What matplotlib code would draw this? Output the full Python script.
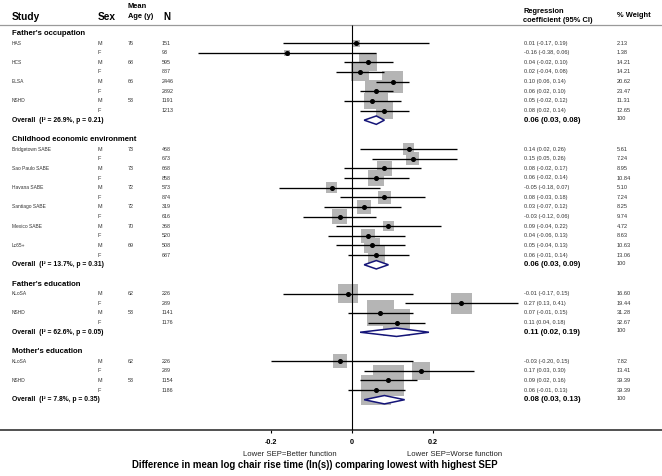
import matplotlib.pyplot as plt
from matplotlib.patches import Polygon

plt.rcParams['font.family'] = ['Liberation Sans', 'DejaVu Sans']

# sections and their study rows
sections = ["Father's occupation", "Childhood economic environment",
            "Father's education", "Mother's education"]
section_sizes = [8, 12, 4, 4]

studies = ["HAS", "", "HCS", "", "ELSA", "", "NSHD", "",
           "Bridgetown SABE", "", "Sao Paulo SABE", "", "Havana SABE", "",
           "Santiago SABE", "", "Mexico SABE", "", "Lc65+", "",
           "KLoSA", "", "NSHD", "",
           "KLoSA", "", "NSHD", ""]
sexes = ["M", "F"] * 14
ages = [76, None, 68, None, 66, None, 53, None,
        73, None, 73, None, 72, None, 72, None, 70, None, 69, None,
        62, None, 53, None,
        62, None, 53, None]
ns = [151, 93, 595, 887, 2446, 2892, 1191, 1213,
      468, 673, 668, 858, 573, 874, 319, 616, 368, 520, 508, 687,
      226, 289, 1141, 1176,
      226, 289, 1154, 1186]
est = [0.01, -0.16, 0.04, 0.02, 0.10, 0.06, 0.05, 0.08,
       0.14, 0.15, 0.08, 0.06, -0.05, 0.08, 0.03, -0.03, 0.09, 0.04, 0.05, 0.06,
       -0.01, 0.27, 0.07, 0.11,
       -0.03, 0.17, 0.09, 0.06]
lo = [-0.17, -0.38, -0.02, -0.04, 0.06, 0.02, -0.02, 0.02,
      0.02, 0.05, -0.02, -0.02, -0.18, -0.03, -0.07, -0.12, -0.04, -0.06, -0.04, -0.01,
      -0.17, 0.13, -0.01, 0.04,
      -0.20, 0.03, 0.02, -0.01]
hi = [0.19, 0.06, 0.10, 0.08, 0.14, 0.10, 0.12, 0.14,
      0.26, 0.26, 0.17, 0.14, 0.07, 0.18, 0.12, 0.06, 0.22, 0.13, 0.13, 0.14,
      0.15, 0.41, 0.15, 0.18,
      0.15, 0.30, 0.16, 0.13]
weights = [2.13, 1.38, 14.21, 14.21, 20.62, 23.47, 11.31, 12.65,
           5.61, 7.24, 8.95, 10.84, 5.10, 7.24, 8.25, 9.74, 4.72, 8.63, 10.63, 13.06,
           16.60, 19.44, 31.28, 32.67,
           7.82, 13.41, 39.39, 39.39]

# pooled estimates per section
ov_i2 = [26.9, 13.7, 62.6, 7.8]
ov_p = [0.21, 0.31, 0.05, 0.35]
ov_est = [0.06, 0.06, 0.11, 0.08]
ov_lo = [0.03, 0.03, 0.02, 0.03]
ov_hi = [0.08, 0.09, 0.19, 0.13]

xticks = [-0.2, 0, 0.2]
xticklabels = ["-0.2", "0", "0.2"]

W, H = 662, 476
X0, XSCALE = 352, 405.0      # pixel of x=0, pixels per unit
Y0, YSTEP = 33.4, 9.64       # pixel of row 0, pixels per row


def fx(px):
    return px / W


def ry(px):
    return (px - Y0) / YSTEP


fig = plt.figure(figsize=(W / 100, H / 100), dpi=100)
ax = fig.add_axes([0, 0, 1, 1])
ax.set_xlim(-X0 / XSCALE, (W - X0) / XSCALE)
ax.set_ylim(ry(H), ry(0))
tr = ax.get_yaxis_transform()

small = dict(fontsize=3.9, color='#333333', va='center', transform=tr)
names = dict(fontsize=3.5, color='#333333', va='center', transform=tr)
small_r = dict(fontsize=4.1, color='#333333', va='center', transform=tr)

# column headers
ax.text(fx(12), ry(16.5), "Study", fontsize=7.3, fontweight='bold', va='center', transform=tr)
ax.text(fx(98), ry(16.5), "Sex", fontsize=7.3, fontweight='bold', va='center', transform=tr)
ax.text(fx(128), ry(11.5), "Mean\nAge (y)", fontsize=5.4, fontweight='bold', va='center',
        linespacing=1.5, transform=tr)
ax.text(fx(163), ry(16.5), "N", fontsize=7.0, fontweight='bold', va='center', transform=tr)
ax.text(fx(523), ry(16.2), "Regression\ncoefficient (95% CI)", fontsize=5.4,
        fontweight='bold', va='center', linespacing=1.45, transform=tr)
ax.text(fx(617), ry(15.7), "% Weight", fontsize=5.4, fontweight='bold', va='center', transform=tr)

ax.axhline(ry(25), color='#9a9a9a', lw=0.9)

row = 0
k = 0
rows = []
for s, name in enumerate(sections):
    ax.text(fx(12), row, name, fontsize=5.6, fontweight='bold', va='center', transform=tr)
    row += 1
    for j in range(section_sizes[s]):
        rows.append(row)
        ax.text(fx(12), row, studies[k], **names)
        ax.text(fx(97), row, sexes[k], **small)
        if ages[k] is not None:
            ax.text(fx(128), row, str(ages[k]), **small)
        ax.text(fx(162), row, str(ns[k]), **small)
        ax.text(fx(524), row, f"{est[k]:.2f} ({lo[k]:.2f}, {hi[k]:.2f})", **small_r)
        ax.text(fx(617), row, f"{weights[k]:.2f}", **small_r)
        row += 1
        k += 1
    # overall row
    ax.text(fx(12), row, f"Overall  (I\u00b2 = {ov_i2[s]}%, p = {ov_p[s]:.2f})",
            fontsize=4.9, fontweight='bold', va='center', transform=tr)
    ax.text(fx(524), row, f"{ov_est[s]:.2f} ({ov_lo[s]:.2f}, {ov_hi[s]:.2f})",
            fontsize=5.6, fontweight='bold', va='center', transform=tr)
    ax.text(fx(617), row - 0.15, "100", **small_r)
    h = 4.2 / YSTEP
    ax.add_patch(Polygon([(ov_lo[s], row), (ov_est[s], row - h), (ov_hi[s], row),
                          (ov_est[s], row + h)], closed=True, facecolor='white',
                         edgecolor='#141478', lw=1.1, zorder=4))
    row += 2

# study squares, CIs and point estimates
ax.scatter(est, rows, s=[12 * w for w in weights], marker='s', color='#b5b5b5',
           linewidths=0, zorder=2)
ax.hlines(rows, lo, hi, color='black', lw=0.95, zorder=3)
ax.plot(est, rows, 'o', color='black', ms=2.6, zorder=5)

y_bottom = ry(430)
ax.vlines(0, ry(25), y_bottom, color='black', lw=0.8, zorder=3)

# bottom axis
for side in ['top', 'right', 'left']:
    ax.spines[side].set_visible(False)
ax.spines['bottom'].set_position(('data', y_bottom))
ax.spines['bottom'].set_linewidth(1.2)
ax.spines['bottom'].set_color('#333333')
ax.set_yticks([])
ax.set_xticks(xticks)
ax.set_xticklabels(xticklabels, fontsize=5.2, fontweight='bold')
ax.tick_params(axis='x', length=2.5, width=0.8, pad=4)

ax.text((290 - X0) / XSCALE, ry(454.5), "Lower SEP=Better function", fontsize=5.6,
        ha='center', va='center', color='#222222')
ax.text((455 - X0) / XSCALE, ry(454.5), "Lower SEP=Worse function", fontsize=5.6,
        ha='center', va='center', color='#222222')
ax.text((315 - X0) / XSCALE, ry(465), "Difference in mean log chair rise time (ln(s)) comparing lowest with highest SEP",
        fontsize=6.9, fontweight='bold', ha='center', va='center')

fig.savefig("out.png", dpi=100)
